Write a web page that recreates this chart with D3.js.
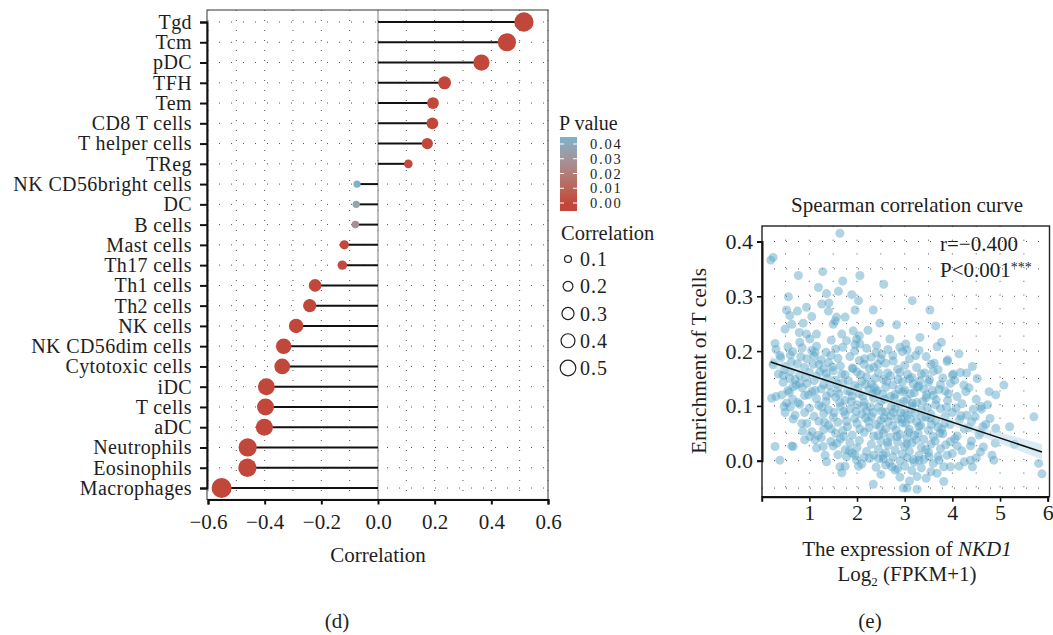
<!DOCTYPE html>
<html><head><meta charset="utf-8">
<script src="https://cdn.jsdelivr.net/npm/d3@7/dist/d3.min.js"></script>
<style>
body{margin:0;background:#fff;}
svg{display:block;font-family:"Liberation Serif","Times New Roman",serif;}
</style></head>
<body><svg id="c" width="1053" height="635"></svg>
<script>
// ---------- Panel (d) data ----------
const categories = ["Tgd","Tcm","pDC","TFH","Tem","CD8 T cells","T helper cells","TReg","NK CD56bright cells","DC","B cells","Mast cells","Th17 cells","Th1 cells","Th2 cells","NK cells","NK CD56dim cells","Cytotoxic cells","iDC","T cells","aDC","Neutrophils","Eosinophils","Macrophages"];
const correlations = [0.515,0.455,0.365,0.235,0.194,0.192,0.174,0.107,-0.074,-0.077,-0.080,-0.119,-0.126,-0.222,-0.241,-0.289,-0.333,-0.338,-0.394,-0.397,-0.401,-0.460,-0.461,-0.552];
const pValues = [0,0,0,0,0,0,0,0.001,0.044,0.037,0.027,0.001,0.001,0,0,0,0,0,0,0,0,0,0,0];
const corrTicks = [-0.6,-0.4,-0.2,0.0,0.2,0.4,0.6];
const pLegendTicks = [0.04,0.03,0.02,0.01,0.00];
const sizeLegendValues = [0.1,0.2,0.3,0.4,0.5];

// ---------- Panel (e) data ----------
const scatterX = [1.64,0.24,0.19,0.77,1.28,1.70,2.06,2.56,1.19,1.36,1.61,1.89,2.03,0.56,1.26,1.41,0.52,0.59,0.75,0.94,1.40,1.05,1.57,1.75,1.96,2.34,0.49,0.63,0.87,1.50,1.54,2.48,2.83,0.79,0.94,1.15,1.68,1.92,2.05,2.23,0.80,1.01,2.69,0.28,1.78,1.99,2.06,2.41,2.90,
3.16,3.53,3.65,3.32,3.77,3.68,4.14,3.02,3.05,3.23,3.89,
4.42,4.52,5.08,4.77,4.91,4.17,4.00,3.96,4.24,4.28,4.44,4.61,4.79,4.91,5.71,4.40,4.56,4.10,4.38,4.59,4.83,4.87,5.81,5.88,4.38,4.42,4.14,3.96,3.82,3.68,3.51,3.30,3.26,3.82,3.05,3.26,3.86,3.89,3.72,4.10,3.96,
0.21,0.42,0.52,0.49,0.47,0.66,0.84,0.28,0.63,0.66,0.38,1.01,1.12,1.29,1.33,1.36,1.64,1.68,1.75,1.78,1.96,1.99,2.03,2.34,2.73,2.80,2.45,2.55,2.97,0.66,0.80,0.24,0.45,0.59,
0.30,0.55,0.65,0.85,1.05,1.15,1.35,1.55,1.70,1.95,2.20,2.40,2.65,2.95,3.30,
0.40,0.60,0.95,1.10,1.25,1.45,1.60,1.85,2.05,2.30,2.50,2.75,3.10,3.45,3.90,
0.25,0.50,0.75,0.90,1.20,1.30,1.40,1.65,1.90,2.15,2.35,2.60,2.85,3.00,3.25,3.55,3.70,4.30,
0.35,0.60,0.80,1.00,1.15,1.35,1.50,1.75,2.00,2.20,2.45,2.70,2.90,3.15,3.35,3.60,3.80,4.02,
0.45,0.70,0.95,1.10,1.30,1.55,1.70,1.95,2.10,2.30,2.55,2.75,2.95,3.10,3.30,3.50,3.75,4.05,4.35,
0.55,0.85,1.05,1.25,1.45,1.60,1.80,2.05,2.25,2.40,2.60,2.80,3.00,3.20,3.40,3.60,3.85,4.10,4.50,
0.30,0.65,0.90,1.15,1.35,1.55,1.75,1.90,2.15,2.35,2.50,2.70,2.90,3.05,3.25,3.45,3.65,3.90,4.20,4.60,
0.60,0.80,1.00,1.20,1.40,1.65,1.85,2.00,2.20,2.45,2.60,2.80,3.00,3.15,3.35,3.55,3.75,4.00,4.30,
0.70,0.90,1.10,1.30,1.50,1.75,1.95,2.10,2.30,2.50,2.70,2.85,3.05,3.25,3.45,3.65,3.85,4.15,4.70,5.20,
0.95,1.20,1.40,1.60,1.80,2.00,2.25,2.40,2.60,2.75,2.95,3.10,3.30,3.50,3.70,3.95,4.25,4.60,
1.05,1.30,1.55,1.70,1.90,2.15,2.35,2.55,2.70,2.90,3.05,3.20,3.40,3.60,3.80,4.05,4.40,4.90,5.30,
0.90,1.25,1.45,1.65,1.85,2.05,2.30,2.50,2.65,2.85,3.00,3.15,3.35,3.55,3.75,4.20,4.65,
1.15,1.50,1.75,2.00,2.20,2.45,2.60,2.80,2.95,3.10,3.30,3.50,3.70,4.00,4.50,
1.60,1.90,2.15,2.35,2.55,2.75,2.90,3.05,3.20,3.40,3.60,4.25,
2.10,2.40,2.60,2.85,3.00,3.15,3.35,3.55,
2.50,2.90,3.10,3.45,
2.12,2.28,2.42,2.58,2.66,2.88,2.98,3.12,3.22,3.38,2.18,2.52,2.82,3.02,3.28,2.38,2.62,3.18,2.02,1.88,1.62,1.42,1.72,2.72,2.48,3.48,3.58,3.12,2.92,2.32,
1.08,1.22,1.38,1.48,1.58,1.68,1.82,1.92,2.08,2.18,2.26,2.36,2.44,2.54,2.64,2.78,2.86,2.96,3.06,3.16,3.26,3.36,3.46,3.56,3.66,3.78,3.88,
1.12,1.26,1.36,1.52,1.64,1.78,1.86,1.98,2.06,2.14,2.24,2.34,2.44,2.56,2.64,2.76,2.84,2.94,3.04,3.14,3.24,3.34,3.44,3.54,3.64,3.74,3.84,
0.38,0.48,0.62,0.72,0.82,0.92,0.98,0.58,0.76,0.86,1.18,1.32,1.46,1.58,1.72,1.84,2.26,2.68,3.08,3.18,3.32,3.42,3.52,3.62,3.72,3.92,4.08,4.18,4.34,4.48,4.64,4.74,2.16,2.52,2.76,1.96,1.46,1.12];
const scatterY = [0.415,0.371,0.366,0.338,0.345,0.328,0.338,0.322,0.316,0.305,0.309,0.303,0.292,0.299,0.286,0.288,0.275,0.265,0.273,0.280,0.273,0.263,0.262,0.262,0.275,0.275,0.240,0.249,0.251,0.249,0.255,0.251,0.248,0.234,0.231,0.231,0.231,0.237,0.228,0.238,0.216,0.222,0.222,0.214,0.219,0.222,0.213,0.210,0.207,
0.292,0.275,0.246,0.225,0.216,0.208,0.195,0.213,0.202,0.192,0.181,
0.172,0.150,0.138,0.126,0.120,0.161,0.156,0.141,0.138,0.126,0.094,0.094,0.077,0.059,0.080,0.071,0.047,0.045,0.027,0.016,0.010,0.001,-0.005,-0.024,0.001,-0.011,-0.010,-0.011,-0.011,-0.023,0.007,0.001,-0.029,-0.038,-0.050,-0.052,0.029,0.010,0.001,0.027,0.035,
0.114,0.120,0.105,0.088,0.099,0.076,0.068,0.026,0.027,0.026,0.001,0.044,0.038,0.026,0.010,-0.002,-0.011,-0.022,-0.010,0.007,0.010,0.001,-0.010,-0.043,-0.011,-0.017,0.004,0.010,-0.050,0.135,0.141,0.175,0.156,0.150,
0.203,0.208,0.199,0.206,0.201,0.209,0.198,0.204,0.207,0.200,0.205,0.197,0.203,0.199,0.201,
0.188,0.193,0.186,0.191,0.184,0.192,0.187,0.190,0.183,0.189,0.185,0.192,0.186,0.190,0.184,
0.178,0.172,0.177,0.170,0.176,0.168,0.179,0.173,0.169,0.176,0.171,0.178,0.167,0.174,0.170,0.176,0.166,0.160,
0.158,0.163,0.156,0.161,0.154,0.159,0.164,0.157,0.162,0.153,0.160,0.155,0.161,0.152,0.158,0.163,0.151,0.158,
0.143,0.148,0.141,0.146,0.139,0.147,0.142,0.137,0.145,0.140,0.148,0.138,0.144,0.149,0.136,0.143,0.139,0.147,0.133,
0.128,0.133,0.126,0.131,0.124,0.132,0.127,0.122,0.130,0.125,0.134,0.121,0.129,0.124,0.131,0.119,0.127,0.117,0.112,
0.117,0.112,0.119,0.113,0.108,0.116,0.110,0.118,0.107,0.114,0.109,0.117,0.104,0.112,0.106,0.115,0.102,0.110,0.104,0.099,
0.098,0.103,0.096,0.101,0.093,0.099,0.094,0.102,0.091,0.098,0.089,0.096,0.087,0.099,0.092,0.085,0.095,0.088,0.083,
0.083,0.088,0.081,0.086,0.079,0.084,0.077,0.085,0.080,0.074,0.082,0.076,0.083,0.071,0.079,0.073,0.081,0.075,0.066,0.062,
0.068,0.072,0.065,0.070,0.062,0.068,0.060,0.066,0.058,0.064,0.069,0.057,0.063,0.055,0.061,0.066,0.058,0.052,
0.053,0.057,0.050,0.055,0.047,0.052,0.045,0.050,0.043,0.048,0.041,0.046,0.039,0.044,0.049,0.040,0.036,0.032,0.030,
0.038,0.042,0.035,0.040,0.033,0.037,0.030,0.036,0.028,0.034,0.026,0.032,0.024,0.030,0.022,0.018,0.025,
0.023,0.027,0.020,0.024,0.017,0.021,0.014,0.019,0.012,0.017,0.010,0.015,0.008,0.013,0.005,
0.011,0.014,0.006,0.010,0.003,0.007,0.000,0.005,-0.003,0.002,-0.005,-0.002,
-0.006,-0.012,-0.008,-0.015,-0.010,-0.018,-0.013,-0.020,
-0.025,-0.030,-0.037,-0.032,
0.118,0.098,0.128,0.112,0.072,0.130,0.108,0.122,0.087,0.108,0.078,0.090,0.056,0.068,0.050,0.150,0.145,0.140,0.133,0.108,0.122,0.137,0.090,0.099,0.062,0.097,0.128,0.076,0.088,0.122,
0.176,0.162,0.151,0.171,0.140,0.158,0.146,0.168,0.157,0.139,0.168,0.134,0.176,0.121,0.160,0.115,0.148,0.126,0.158,0.105,0.134,0.079,0.120,0.066,0.111,0.058,0.097,
0.128,0.098,0.118,0.088,0.106,0.072,0.126,0.090,0.058,0.100,0.072,0.088,0.046,0.078,0.034,0.088,0.044,0.076,0.031,0.094,0.038,0.064,0.020,0.078,0.036,0.050,0.068,
0.192,0.166,0.180,0.138,0.190,0.152,0.120,0.125,0.106,0.054,0.046,0.070,0.058,0.032,0.044,0.018,0.004,-0.004,0.052,0.002,0.146,0.160,0.148,0.178,0.130,0.122,0.096,0.082,0.060,0.080,0.062,0.102,0.186,0.194,0.182,0.212,0.220,0.198];
const fitX = [0.19,5.88];
const fitY = [0.180,0.016];
const bandX = [0.19,1,2,3,4,5,5.88];
const bandHalf = [0.010,0.007,0.005,0.004,0.006,0.010,0.014];
const exprTicks = [1,2,3,4,5,6];
const enrichTicks = [0.0,0.1,0.2,0.3,0.4];

const svg = d3.select("#c");
const RED = "#c1473a", BLUE = "#7cb3ca";
const FS = 21;
const INK = "#1e1e1e";

// ================= Panel (d) =================
const L = {left:207, right:548, top:10, bottom:499.5};
const x = d3.scaleLinear().domain([-0.6,0.6]).range([208,548]);
const y = d3.scalePoint().domain(categories).range([22,488]);
const pMax = 0.044;
const color = d3.scaleLinear().domain([0,pMax]).range([RED,BLUE]).interpolate(d3.interpolateLab).clamp(true);
const r = d3.scaleSqrt().domain([0.07,0.55]).range([3.5,10]);

const gd = svg.append("g");
const vgrid = d3.range(-6,7).map(v=>v/10);
gd.selectAll(".vg").data(vgrid).join("line")
  .attr("x1",d=>x(d)).attr("x2",d=>x(d)).attr("y1",L.top).attr("y2",L.bottom)
  .attr("stroke","#555").attr("stroke-width",1).attr("stroke-dasharray","1,9");
gd.selectAll(".hg").data(categories).join("line")
  .attr("x1",L.left).attr("x2",L.right).attr("y1",d=>y(d)).attr("y2",d=>y(d))
  .attr("stroke","#555").attr("stroke-width",1).attr("stroke-dasharray","1,11");
gd.append("line").attr("x1",x(0)).attr("x2",x(0)).attr("y1",L.top).attr("y2",L.bottom)
  .attr("stroke","#999").attr("stroke-width",1.3);
gd.append("rect").attr("x",L.left).attr("y",L.top).attr("width",L.right-L.left).attr("height",L.bottom-L.top)
  .attr("fill","none").attr("stroke","#555").attr("stroke-width",1.2);
gd.selectAll(".seg").data(categories).join("line")
  .attr("x1",x(0)).attr("x2",(d,i)=>x(correlations[i]))
  .attr("y1",d=>y(d)).attr("y2",d=>y(d))
  .attr("stroke","#111").attr("stroke-width",2);
gd.selectAll(".dot").data(categories).join("circle")
  .attr("cx",(d,i)=>x(correlations[i])).attr("cy",d=>y(d))
  .attr("r",(d,i)=>r(Math.abs(correlations[i])))
  .attr("fill",(d,i)=>color(pValues[i]));
const ax = gd.append("g").attr("transform",`translate(0,${L.bottom})`)
  .call(d3.axisBottom(x).tickValues(corrTicks).tickSize(5).tickPadding(10).tickFormat(d3.format(".1f")));
const ay = gd.append("g").attr("transform",`translate(${L.left},0)`)
  .call(d3.axisLeft(y).tickSize(7).tickPadding(8));
[ax,ay].forEach(a=>{
  a.select(".domain").attr("stroke","#111").attr("stroke-width",2);
  a.selectAll(".tick line").attr("stroke","#111").attr("stroke-width",2);
  a.selectAll(".tick text").attr("font-family","Liberation Serif").attr("fill",INK);
});
ax.selectAll(".tick text").attr("font-size",FS);
ay.selectAll(".tick text").attr("font-size",20).attr("letter-spacing",0.4);
gd.append("text").attr("x",378).attr("y",562).attr("text-anchor","middle").attr("font-size",FS).attr("fill",INK).text("Correlation");
gd.append("text").attr("x",337).attr("y",628).attr("text-anchor","middle").attr("font-size",FS).attr("fill",INK).text("(d)");

// legend: P value
const lg = svg.append("g");
lg.append("text").attr("x",559).attr("y",130).attr("font-size",20).attr("fill",INK).text("P value");
const pY = d3.scaleLinear().domain([0,0.04]).range([203,144]);
const defs = svg.append("defs");
const grad = defs.append("linearGradient").attr("id","pg").attr("x1",0).attr("x2",0).attr("y1",1).attr("y2",0);
d3.range(0,11).forEach(k=>{
  grad.append("stop").attr("offset",k/10).attr("stop-color",color(pY.invert(211-(211-137)*k/10)));
});
lg.append("rect").attr("x",560).attr("y",137).attr("width",17).attr("height",74).attr("fill","url(#pg)");
lg.selectAll(".pt").data(pLegendTicks).join("g").each(function(d){
  const g=d3.select(this);
  g.append("line").attr("x1",560).attr("x2",564).attr("y1",pY(d)).attr("y2",pY(d)).attr("stroke","#fff").attr("stroke-width",1);
  g.append("line").attr("x1",573).attr("x2",577).attr("y1",pY(d)).attr("y2",pY(d)).attr("stroke","#fff").attr("stroke-width",1);
  g.append("text").attr("x",590).attr("y",pY(d)).attr("dy","0.36em").attr("font-size",14.5).attr("letter-spacing",1.8).attr("fill",INK).text(d3.format(".2f")(d));
});
// legend: Correlation size
lg.append("text").attr("x",561).attr("y",240).attr("font-size",20.5).attr("fill",INK).text("Correlation");
const sy = d3.scalePoint().domain(sizeLegendValues).range([259,368]);
lg.selectAll(".sl").data(sizeLegendValues).join("g").each(function(d){
  const g=d3.select(this);
  g.append("circle").attr("cx",568).attr("cy",sy(d)).attr("r",r(d)*0.82).attr("fill","none").attr("stroke","#222").attr("stroke-width",1.2);
  g.append("text").attr("x",580).attr("y",sy(d)).attr("dy","0.35em").attr("font-size",20).attr("letter-spacing",1).attr("fill",INK).text(d3.format(".1f")(d));
});

// ================= Panel (e) =================
const R = {left:762, right:1049.5, top:226, bottom:496.7};
const ex = d3.scaleLinear().domain([0,6]).range([761.7,1047.7]);
const ey = d3.scaleLinear().domain([0,0.4]).range([460.7,241.5]);
const ge = svg.append("g");
const exGrid = d3.range(1,12).map(v=>v/2);
const eyGrid = d3.range(-1,9).map(v=>v*0.05);
ge.selectAll(".evg").data(exGrid).join("line")
  .attr("x1",d=>ex(d)).attr("x2",d=>ex(d)).attr("y1",R.top).attr("y2",R.bottom)
  .attr("stroke","#555").attr("stroke-width",1).attr("stroke-dasharray","1,12.7");
ge.selectAll(".ehg").data(eyGrid).join("line")
  .attr("x1",R.left).attr("x2",R.right).attr("y1",d=>ey(d)).attr("y2",d=>ey(d))
  .attr("stroke","#555").attr("stroke-width",1).attr("stroke-dasharray","1,11");
ge.selectAll(".pt").data(scatterX).join("circle")
  .attr("cx",(d)=>ex(d)).attr("cy",(d,i)=>ey(scatterY[i])).attr("r",4.5)
  .attr("fill","#5aa5c6").attr("fill-opacity",0.48);
const fitLine = d3.scaleLinear().domain(fitX).range(fitY);
const band = bandX.map((v,i)=>({x:v,lo:fitLine(v)-bandHalf[i],hi:fitLine(v)+bandHalf[i]}));
ge.append("path").datum(band)
  .attr("d",d3.area().x(d=>ex(d.x)).y0(d=>ey(d.lo)).y1(d=>ey(d.hi)).curve(d3.curveMonotoneX))
  .attr("fill","#b9dcea").attr("fill-opacity",0.55);
ge.append("line").attr("x1",ex(fitX[0])).attr("y1",ey(fitY[0])).attr("x2",ex(fitX[1])).attr("y2",ey(fitY[1]))
  .attr("stroke","#111").attr("stroke-width",1.6);
ge.append("rect").attr("x",R.left).attr("y",R.top).attr("width",R.right-R.left).attr("height",R.bottom-R.top)
  .attr("fill","none").attr("stroke","#222").attr("stroke-width",1.4);
const bx = ge.append("g").attr("transform",`translate(0,${R.bottom})`)
  .call(d3.axisBottom(ex).tickValues(exprTicks).tickSize(5).tickPadding(3).tickFormat(d3.format("d")));
const by = ge.append("g").attr("transform",`translate(${R.left},0)`)
  .call(d3.axisLeft(ey).tickValues(enrichTicks).tickSize(5).tickPadding(4).tickFormat(d3.format(".1f")));
[bx,by].forEach(a=>{
  a.select(".domain").attr("stroke","#111").attr("stroke-width",2);
  a.selectAll(".tick line").attr("stroke","#111").attr("stroke-width",1.6);
  a.selectAll(".tick text").attr("font-size",22).attr("font-family","Liberation Serif").attr("fill",INK);
});
ge.append("text").attr("x",907).attr("y",212).attr("text-anchor","middle").attr("font-size",21).attr("fill",INK).text("Spearman correlation curve");
ge.append("text").attr("x",940).attr("y",251).attr("font-size",21).attr("fill",INK).text("r=−0.400");
const pt = ge.append("text").attr("x",940).attr("y",277).attr("font-size",21).attr("fill",INK);
pt.append("tspan").text("P<0.001");
pt.append("tspan").attr("font-size",14).attr("dy",-5).text("***");
ge.append("text").attr("transform","translate(706,361) rotate(-90)").attr("text-anchor","middle").attr("font-size",21.5).attr("fill",INK).text("Enrichment of T cells");
const xl = ge.append("text").attr("x",907).attr("y",556).attr("text-anchor","middle").attr("font-size",FS).attr("fill",INK);
xl.append("tspan").text("The expression of ");
xl.append("tspan").attr("font-style","italic").text("NKD1");
const xl2 = ge.append("text").attr("x",907).attr("y",581).attr("text-anchor","middle").attr("font-size",FS).attr("fill",INK);
xl2.append("tspan").text("Log");
xl2.append("tspan").attr("font-size",13).attr("dy",5).text("2");
xl2.append("tspan").attr("dy",-5).text(" (FPKM+1)");
ge.append("text").attr("x",870).attr("y",628).attr("text-anchor","middle").attr("font-size",FS).attr("fill",INK).text("(e)");
</script></body></html>
